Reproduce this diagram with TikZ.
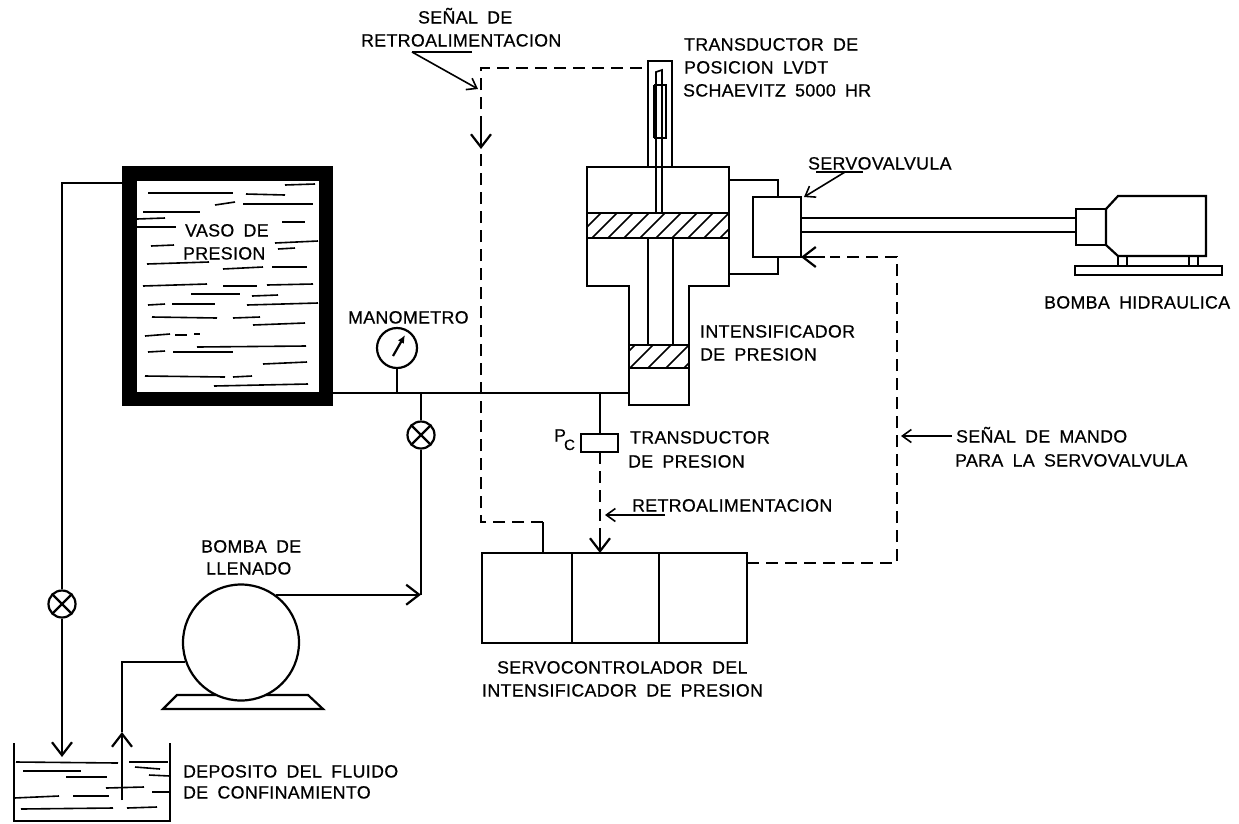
\documentclass[tikz,border=0pt]{standalone}
\usepackage{fontspec}
\usetikzlibrary{arrows.meta}
\newfontfamily\lblfont[LetterSpace=2,WordSpace=1.75,FakeBold=0.6]{Liberation Sans}
\tikzset{
  lbl/.style={anchor=base west,inner sep=0pt,font=\lblfont\fontsize{17.8}{20}\selectfont},
  subl/.style={anchor=base west,inner sep=0pt,font=\lblfont\fontsize{15}{18}\selectfont},
  sig/.style={dash pattern=on 12pt off 7pt},
  tip/.style={-{Straight Barb[length=13pt,width=20pt,line width=2.2pt]}},
  thintip/.style={line width=1.6pt,-{Straight Barb[length=9pt,width=13pt,line width=1.6pt]}},
  valve/.style={circle,draw,fill=white,minimum size=27pt,inner sep=0pt},
  liquid/.style={line width=1.6pt},
  box/.style={draw,fill=white,inner sep=0pt,outer sep=0pt},
}
\begin{document}
\begin{tikzpicture}[x=1pt,y=-1pt,line width=2.2pt]
\useasboundingbox (0,0) rectangle (1239,823);
% ---------- pressure vessel
\fill[black] (122,166) rectangle (333,406);
\node[box,draw=none,minimum width=182pt,minimum height=211pt] (vessel) at (228,286.5) {};
\foreach \a/\b/\c/\d in {285/185/315/184,148/193/233/193,246/194/285/195,215/205/235/202,243/204/313/204,143/212/200/212,137/219/165/218,137/227/176/227,282/222/305/222,151/246/174/245,275/243/318/241,278/249/295/248,147/264/209/262,223/269/263/267,272/267/307/267,143/286/207/284,223/286/257/286,267/285/313/284,191/294/240/294,252/296/278/295,148/305/165/304,172/304/215/304,247/305/318/303,152/317/217/318,233/318/260/317,253/325/305/323,145/336/170/334,175/335/187/335,194/334/200/334,197/347/306/346,148/352/165/351,173/352/233/352,263/364/307/362,145/376/225/377,233/377/252/376,214/386/308/384}
  \draw[liquid] (\a,\b) -- (\c,\d);
\node[lbl] (tvaso) at (184,236.5) {VASO DE};
\node[lbl] (tpres) at (182,259.5) {PRESION};
% ---------- tank
\coordinate (tankTL) at (14,743);
\coordinate (tankBL) at (14,821);
\coordinate (tankBR) at (170,821);
\coordinate (tankTR) at (170,743);
\draw (tankTL) -- (tankBL) -- (tankBR) -- (tankTR);
\foreach \a/\b/\c/\d in {16/762/118/763,129/762/168/762,23/771/81/771,66/777/107/777,135/767/160/769,149/775/170/776,106/788/144/787,152/792/170/792,14/798/59/796,73/796/109/796,21/809/113/808,127/808/157/807}
  \draw[liquid] (\a,\b) -- (\c,\d);
% ---------- left return line
\coordinate (vesselPort) at (122,183);
\coordinate (leftCorner) at (62,183);
\coordinate (tankIn) at (62,757);
\node[valve] (vL) at (62,604) {};
\draw (vesselPort) -- (leftCorner) -- (vL.north);
\draw[tip] (vL.south) -- (tankIn);
\draw (vL.45) -- (vL.225) (vL.135) -- (vL.315);
% ---------- fill pump
\coordinate (bA) at (163,709);
\coordinate (bB) at (323,709);
\coordinate (bC) at (308,695);
\coordinate (bD) at (177,695);
\draw (bA) -- (bB) -- (bC) -- (bD) -- cycle;
\node[circle,draw,fill=white,minimum size=116pt,inner sep=0pt] (pump) at (241,642.5) {};
\coordinate (suctTip) at (122,732);
\coordinate (suctEnd) at (122,800);
\draw (pump.199) -- (pump.199 -| suctTip) -- (suctTip);
\draw[tip] (suctEnd) -- (suctTip);
\coordinate (dischTip) at (421,595);
\draw[tip] (pump.54) -- (pump.54 -| dischTip);
% ---------- main line, gauge, valve
\coordinate (mainStart) at (333,393);
\coordinate (mainEnd) at (629,393);
\draw (mainStart) -- (mainEnd);
\node[circle,draw,fill=white,minimum size=40pt,inner sep=0pt] (gauge) at (397,348) {};
\draw (gauge.south) -- (gauge.south |- mainStart);
\coordinate (needleA) at (393,356);
\coordinate (needleB) at (405,335);
\draw[-{Latex[length=8pt,width=7pt]}] (needleA) -- (needleB);
\node[valve] (vM) at (421,435) {};
\draw (vM.north) -- (vM.north |- mainStart);
\draw (vM.south) -- (dischTip);
\draw (vM.45) -- (vM.225) (vM.135) -- (vM.315);
% ---------- intensifier
\draw (587,286) -- (587,167) -- (729,167) -- (729,286) -- (689,286) -- (689,405) -- (629,405) -- (629,286) -- cycle;
\begin{scope}
\clip (587,213) rectangle (729,238);
\foreach \x in {560,576,...,744} \draw[line width=1.5pt] (\x,238) -- (\x+25,213);
\end{scope}
\draw (587,213) rectangle (729,238);
\begin{scope}
\clip (629,345) rectangle (689,368);
\foreach \x in {612,630,...,700} \draw[line width=1.5pt] (\x,368) -- (\x+23,345);
\end{scope}
\draw (629,345) rectangle (689,368);
\draw (648,238) -- (648,345) (673,238) -- (673,345);
% ---------- LVDT
\coordinate (lvdtL) at (648,167);
\coordinate (lvdtTL) at (648,61);
\coordinate (lvdtTR) at (672,61);
\coordinate (lvdtR) at (672,167);
\draw (lvdtL) -- (lvdtTL) -- (lvdtTR) -- (lvdtR);
\draw[line width=1.7pt] (656,213) -- (656,72) -- (662,70) -- (662,213);
\draw[line width=3pt] (654,85) -- (654,138);
\draw[line width=1.7pt] (654,85) -- (666,85) -- (666,138) -- (654,138);
% ---------- servovalve
\node[box,minimum width=48pt,minimum height=60pt] (servo) at (777,227) {};
\coordinate (uA) at (729,180);
\coordinate (uB) at (778,180);
\coordinate (lA) at (729,274);
\coordinate (lB) at (778,274);
\draw (uA) -- (uB) -- (uB |- servo.north);
\draw (lA) -- (lB) -- (lB |- servo.south);
% ---------- hydraulic pump
\node[box,minimum width=30pt,minimum height=36pt] (hblock) at (1091,227) {};
\draw (1106,209) -- (1118,196) -- (1206,196) -- (1206,256) -- (1118,256) -- (1106,245) -- cycle;
\draw (1118,256) -- (1118,266) (1127,256) -- (1127,266) (1189,256) -- (1189,266) (1198,256) -- (1198,266);
\draw (1075,266) rectangle (1222,275);
\draw (servo.east |- 0,218) -- (hblock.west |- 0,218);
\draw (servo.east |- 0,232) -- (hblock.west |- 0,232);
% ---------- pressure transducer
\node[box,minimum width=37pt,minimum height=18pt] (ptrans) at (599.5,443) {};
\coordinate (ptTop) at (600,393);
\draw (ptTop) -- (ptrans.north -| ptTop);
% ---------- controller
\node[box,minimum width=90pt,minimum height=90pt] (c1) at (527,598) {};
\node[box,minimum width=87pt,minimum height=90pt] (c2) at (615.5,598) {};
\node[box,minimum width=88pt,minimum height=90pt] (c3) at (703,598) {};
% ---------- signals
\draw[sig] (ptrans.south -| ptTop) -- (ptTop |- c2.north);
\draw[tip] (600,530) -- (ptTop |- c2.north);
\coordinate (fbA) at (543,553);
\coordinate (fbB) at (543,522);
\coordinate (fbC) at (481,522);
\coordinate (fbD) at (481,68);
\coordinate (fbE) at (648,68);
\coordinate (fbTip) at (481,149);
\draw (fbA) -- (fbB);
\draw[sig] (fbB) -- (fbC) -- (fbD) -- (fbE);
\draw[tip] (481,125) -- (fbTip);
\coordinate (cmdA) at (747,563);
\coordinate (cmdB) at (897,563);
\coordinate (cmdC) at (897,257);
\coordinate (cmdD) at (801,257);
\draw[sig] (cmdA) -- (cmdB) -- (cmdC) -- (830,257);
\draw[tip] (825,257) -- (cmdD);
% ---------- pointers
\coordinate (p1A) at (472,52);
\coordinate (p1B) at (412,52);
\coordinate (p1C) at (478,89);
\draw[line width=1.6pt] (p1A) -- (p1B);
\draw[thintip] (p1B) -- (p1C);
\coordinate (p2A) at (863,172);
\coordinate (p2B) at (816,172);
\coordinate (p2C) at (845,172);
\coordinate (p2D) at (804,197);
\draw[line width=1.6pt] (p2A) -- (p2B);
\draw[thintip] (p2C) -- (p2D);
\coordinate (p3A) at (665,515);
\coordinate (p3B) at (605,515);
\draw[thintip] (p3A) -- (p3B);
\coordinate (p4A) at (952,436);
\coordinate (p4B) at (901,436);
\draw[thintip] (p4A) -- (p4B);
% ---------- labels
\node[lbl] (t1) at (417,23.5) {SEÑAL DE};
\node[lbl] (t2) at (360,46.5) {RETROALIMENTACION};
\node[lbl] (t3) at (683,50.5) {TRANSDUCTOR DE};
\node[lbl] (t4) at (683,73.5) {POSICION LVDT};
\node[lbl] (t5) at (682,96.5) {SCHAEVITZ 5000 HR};
\node[lbl] (t6) at (807,169.5) {SERVOVALVULA};
\node[lbl] (t7) at (1043,308.5) {BOMBA HIDRAULICA};
\node[lbl] (t8) at (347,323.5) {MANOMETRO};
\node[lbl] (t9) at (699,337.5) {INTENSIFICADOR};
\node[lbl] (t10) at (699,360.5) {DE PRESION};
\node[lbl] (t11) at (629,443.5) {TRANSDUCTOR};
\node[lbl] (t12) at (627,467.5) {DE PRESION};
\node[lbl] (t13) at (955,442.5) {SEÑAL DE MANDO};
\node[lbl] (t14) at (954,466.5) {PARA LA SERVOVALVULA};
\node[lbl] (t15) at (631,511.5) {RETROALIMENTACION};
\node[lbl] (t16) at (553,441.5) {P};
\node[subl] (t17) at (563,450) {C};
\node[lbl] (t18) at (200,552.5) {BOMBA DE};
\node[lbl] (t19) at (205,574.5) {LLENADO};
\node[lbl] (t20) at (496,673.5) {SERVOCONTROLADOR DEL};
\node[lbl] (t21) at (481,696.5) {INTENSIFICADOR DE PRESION};
\node[lbl] (t22) at (182,777.5) {DEPOSITO DEL FLUIDO};
\node[lbl] (t23) at (182,798.5) {DE CONFINAMIENTO};
\end{tikzpicture}
\end{document}
